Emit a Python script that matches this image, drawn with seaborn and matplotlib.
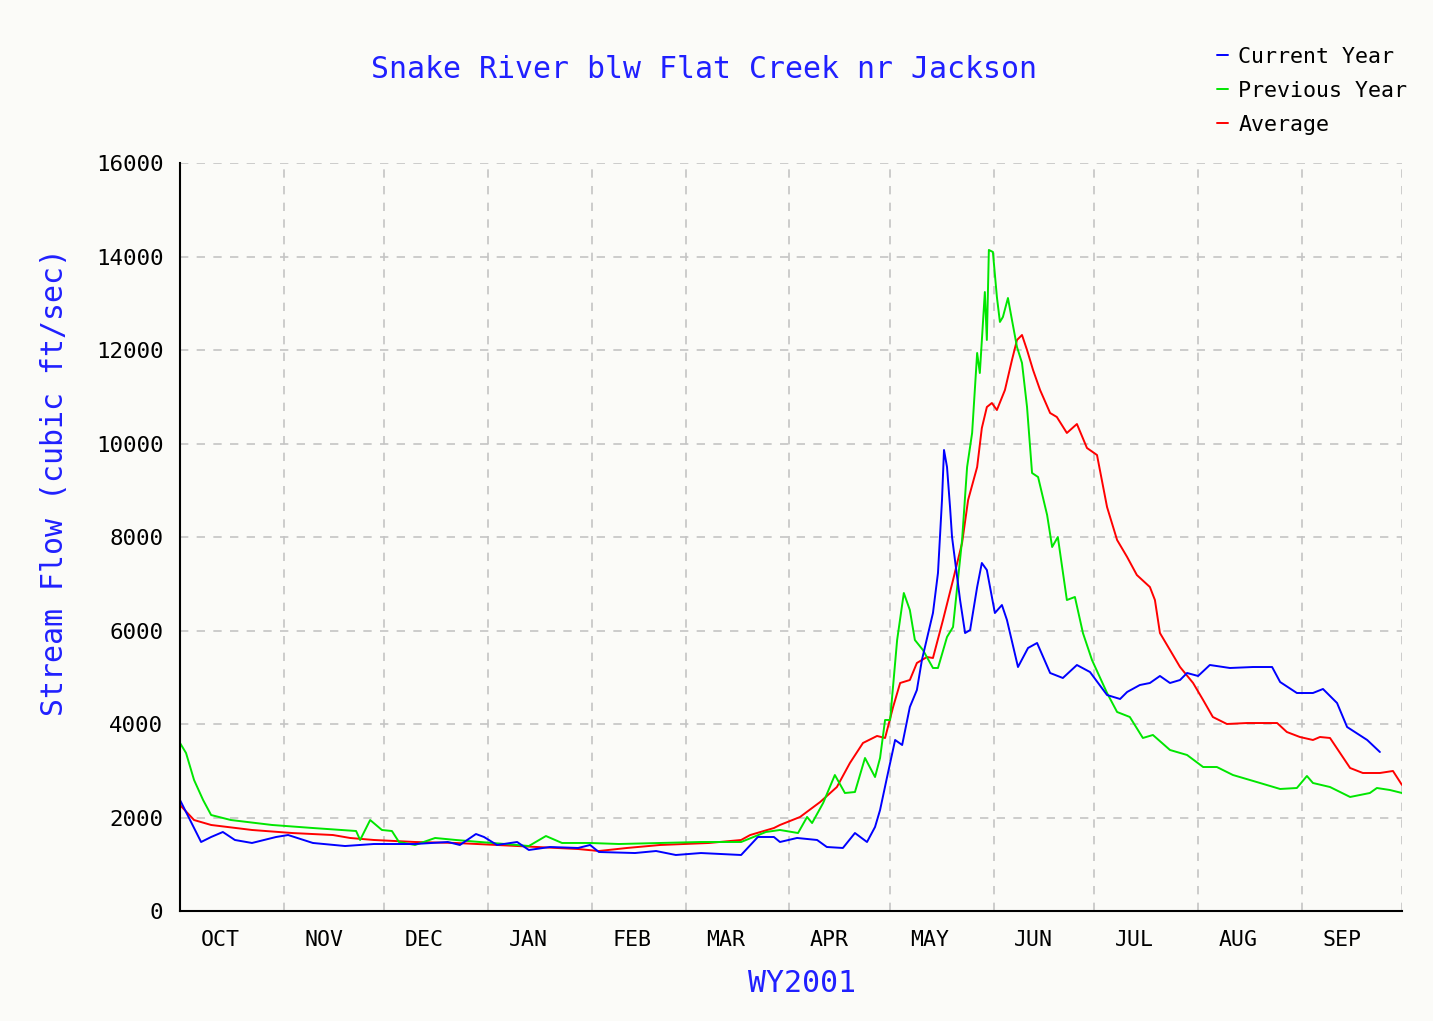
import numpy as np
import pandas as pd
import seaborn as sns
import matplotlib.pyplot as plt

# day of water year (0 = Oct 1) and flow in cfs
cur_day = [0, 6.3, 9.3, 12.8, 16.4, 21.5, 28.7, 32.3, 39.7, 49.3, 57.9, 70.2, 80.0, 83.6, 88.4,
           90.8, 94.7, 100.7, 104.2, 110.5, 118.9, 122.5, 125.1, 135.9, 142.2, 148.1, 155.6,
           167.6, 172.6, 177.4, 179.2, 184.3, 190.3, 193.2, 198.0, 201.6, 205.2, 207.6, 209.1,
           211.2, 213.6, 215.7, 218.0, 220.1, 221.6, 224.9, 226.4, 227.6, 228.2, 229.1, 230.0,
           230.6, 233.0, 234.5, 236.0, 238.1, 239.5, 241.0, 243.4, 245.5, 247.0, 250.3, 253.3,
           256.0, 259.9, 263.7, 267.9, 271.8, 276.9, 280.8, 282.9, 286.7, 289.7, 292.7, 295.7,
           298.7, 300.8, 304.1, 307.6, 313.6, 320.5, 326.2, 328.6, 333.6, 338.4, 341.4, 345.6,
           348.6, 354.6, 358.4]
cur_flow = [2374, 1476, 1583, 1690, 1519, 1455, 1583, 1625, 1455, 1390, 1433, 1433, 1476, 1412, 1647,
            1583, 1412, 1476, 1305, 1369, 1348, 1412, 1262, 1240, 1283, 1198, 1240,
            1198, 1583, 1583, 1476, 1562, 1519, 1369, 1348, 1668, 1476, 1797, 2160,
            2866, 3658, 3551, 4364, 4727, 5369, 6374, 7230, 8791, 9861, 9497, 8641,
            8000, 6652, 5946, 6010, 6930, 7444, 7294, 6374, 6545, 6225, 5219, 5626,
            5733, 5091, 4984, 5262, 5112, 4620, 4535, 4685, 4834, 4877, 5027, 4877,
            4941, 5091, 5027, 5262, 5198, 5219, 5219, 4898, 4663, 4663, 4749, 4449,
            3936, 3658, 3401]

prev_day = [0, 1.8, 4.2, 6.9, 9.3, 15.2, 27.5, 39.7, 52.6, 53.8, 56.8, 60.3, 63.3, 65.4, 70.2,
            76.2, 82.4, 89.6, 97.1, 104.2, 109.3, 114.1, 122.5, 131.1, 143.4, 155.6, 167.6,
            175.0, 179.2, 184.6, 187.3, 188.8, 192.1, 195.6, 198.6, 201.6, 204.6, 207.6, 209.1,
            210.6, 212.1, 214.2, 216.2, 218.0, 219.5, 221.9, 224.9, 226.4, 229.1, 230.9, 233.6,
            235.1, 236.6, 238.1, 238.9, 240.4, 241.0, 241.6, 242.8, 244.0, 244.9, 245.8, 247.3,
            248.5, 250.0, 251.5, 253.0, 254.5, 256.3, 259.0, 260.5, 262.2, 264.9, 267.3, 269.7,
            272.4, 276.9, 279.9, 283.7, 287.6, 290.6, 295.7, 300.8, 305.6, 309.7, 314.5, 322.6,
            328.6, 333.6, 336.6, 338.4, 343.5, 349.5, 355.4, 357.5, 361.4, 365.0]
prev_flow = [3594, 3380, 2802, 2374, 2053, 1946, 1840, 1775, 1711, 1519, 1946, 1733, 1711, 1476, 1412,
             1562, 1519, 1476, 1433, 1390, 1604, 1455, 1455, 1433, 1455, 1476, 1476,
             1690, 1733, 1668, 2011, 1882, 2310, 2909, 2524, 2545, 3273, 2866, 3273,
             4086, 4086, 5797, 6802, 6438, 5797, 5583, 5198, 5198, 5861, 6075, 7936,
             9497, 10225, 11936, 11508, 13240, 12214, 14140, 14097, 13134, 12600, 12707, 13112,
             12642, 12064, 11722, 10780, 9369, 9283, 8470, 7786, 8000, 6652, 6717, 5946,
             5369, 4663, 4257, 4150, 3701, 3765, 3444, 3337, 3080, 3080, 2909, 2738,
             2610, 2631, 2888, 2738, 2652, 2439, 2524, 2631, 2588, 2524]

avg_day = [0, 4.2, 9.3, 21.5, 33.5, 45.7, 50.8, 57.9, 70.2, 82.4, 94.7, 106.6, 118.9, 125.1, 133.5,
           143.4, 158.0, 167.6, 170.3, 177.4, 179.2, 185.2, 191.2, 196.2, 200.1, 204.0, 208.2,
           210.6, 213.0, 215.1, 218.0, 220.1, 223.1, 224.9, 227.9, 230.9, 233.6, 235.4, 238.1,
           239.5, 241.0, 242.5, 244.0, 246.4, 248.5, 250.0, 251.5, 253.0, 254.8, 256.9, 259.9,
           261.9, 264.9, 267.9, 270.9, 273.9, 276.9, 279.9, 282.9, 285.8, 289.7, 291.2, 292.7,
           295.7, 298.7, 302.6, 305.6, 308.5, 312.7, 318.7, 327.7, 330.6, 334.5, 338.4, 340.5,
           343.5, 346.5, 349.5, 353.3, 358.4, 362.3, 365.0]
avg_flow = [2267, 1946, 1840, 1733, 1668, 1625, 1562, 1519, 1476, 1455, 1412, 1369, 1326, 1283, 1348,
            1412, 1455, 1519, 1625, 1775, 1840, 2011, 2331, 2652, 3166, 3594, 3744,
            3701, 4364, 4877, 4941, 5305, 5433, 5412, 6225, 7080, 7872, 8791, 9497,
            10330, 10780, 10866, 10716, 11144, 11786, 12214, 12321, 12000, 11572, 11144, 10652,
            10567, 10225, 10417, 9904, 9754, 8641, 7936, 7572, 7187, 6930, 6652, 5946,
            5583, 5219, 4877, 4513, 4150, 4000, 4021, 4021, 3829, 3722, 3658, 3722,
            3701, 3380, 3059, 2952, 2952, 2995, 2695]

series_names = ["Current Year", "Previous Year", "Average"]
series_colors = ["#0000ff", "#00e600", "#ff0000"]

month_labels = ["OCT", "NOV", "DEC", "JAN", "FEB", "MAR", "APR", "MAY", "JUN", "JUL", "AUG", "SEP"]
month_starts = [0, 31, 61, 92, 123, 151, 182, 212, 243, 273, 304, 335, 365]
y_ticks = [0, 2000, 4000, 6000, 8000, 10000, 12000, 14000, 16000]

df = pd.concat([
    pd.DataFrame({"day": cur_day, "flow": cur_flow, "series": series_names[0]}),
    pd.DataFrame({"day": prev_day, "flow": prev_flow, "series": series_names[1]}),
    pd.DataFrame({"day": avg_day, "flow": avg_flow, "series": series_names[2]}),
])

sns.set_style("white")
plt.rcParams['font.family'] = ['DejaVu Sans Mono', 'DejaVu Sans']

bg = "#fbfbf8"
blue_text = "#2020ff"
fig = plt.figure(figsize=(14.33, 10.21), dpi=100, facecolor=bg)
ax = fig.add_axes([180 / 1433, 1 - 911 / 1021, (1402 - 180) / 1433, (911 - 163) / 1021])
ax.set_facecolor(bg)

# draw order: average, previous, current (current on top)
for name in ["Average", "Previous Year", "Current Year"]:
    sub = df[df["series"] == name]
    sns.lineplot(data=sub, x="day", y="flow", color=series_colors[series_names.index(name)],
                 linewidth=1.4, estimator=None, sort=False, ax=ax, label=name, legend=False)

ax.set_xlim(0, 365)
ax.set_ylim(0, 16000)

# grid
for d in month_starts[1:]:
    ax.axvline(d, color="#c4c4c4", lw=1.2, ls=(0, (5, 5)), zorder=0)
for v in y_ticks[1:]:
    ax.axhline(v, color="#c4c4c4", lw=1.2, ls=(0, (5, 5)), zorder=0)

ax.set_xticks(month_starts)
ax.set_xticklabels([])
ax.set_xticks([s + 12 for s in month_starts[:-1]], minor=True)
ax.set_xticklabels(month_labels, minor=True, fontsize=15.5, color="black")
ax.tick_params(axis="x", which="major", length=8, width=1.3, color="black", direction="out")
ax.tick_params(axis="x", which="minor", length=0, pad=14)
ax.set_yticks(y_ticks)
ax.set_yticklabels([str(v) for v in y_ticks], fontsize=16.2, color="black")
ax.tick_params(axis="y", length=10, width=1.3, color="black", direction="out", pad=2)

for s in ["top", "right"]:
    ax.spines[s].set_visible(False)
for s in ["left", "bottom"]:
    ax.spines[s].set_color("black")
    ax.spines[s].set_linewidth(1.5)

ax.set_xlabel("WY2001", color=blue_text, fontsize=21.5)
ax.xaxis.set_label_coords((802 - 180) / 1222, -(983 - 911) / 748)
ax.set_ylabel("Stream Flow (cubic ft/sec)", color=blue_text, fontsize=21.5)
ax.yaxis.set_label_coords(-(180 - 55) / 1222, (911 - 482) / 748)
ax.xaxis.label.set_va("center")
ax.yaxis.label.set_va("center")
fig.text(704 / 1433, 1 - 69 / 1021, "Snake River blw Flat Creek nr Jackson",
         color=blue_text, fontsize=21.5, ha="center", va="center")

handles, labels = ax.get_legend_handles_labels()
order = [labels.index(n) for n in series_names]
fig.legend([handles[i] for i in order], [labels[i] for i in order],
           loc="upper left", bbox_to_anchor=(1208 / 1433, 1 - 38 / 1021),
           frameon=False, fontsize=15.6, handlelength=0.5, handletextpad=0.5,
           labelspacing=0.65, borderaxespad=0, labelcolor="black")

fig.savefig("out.png", dpi=100, facecolor=bg)
